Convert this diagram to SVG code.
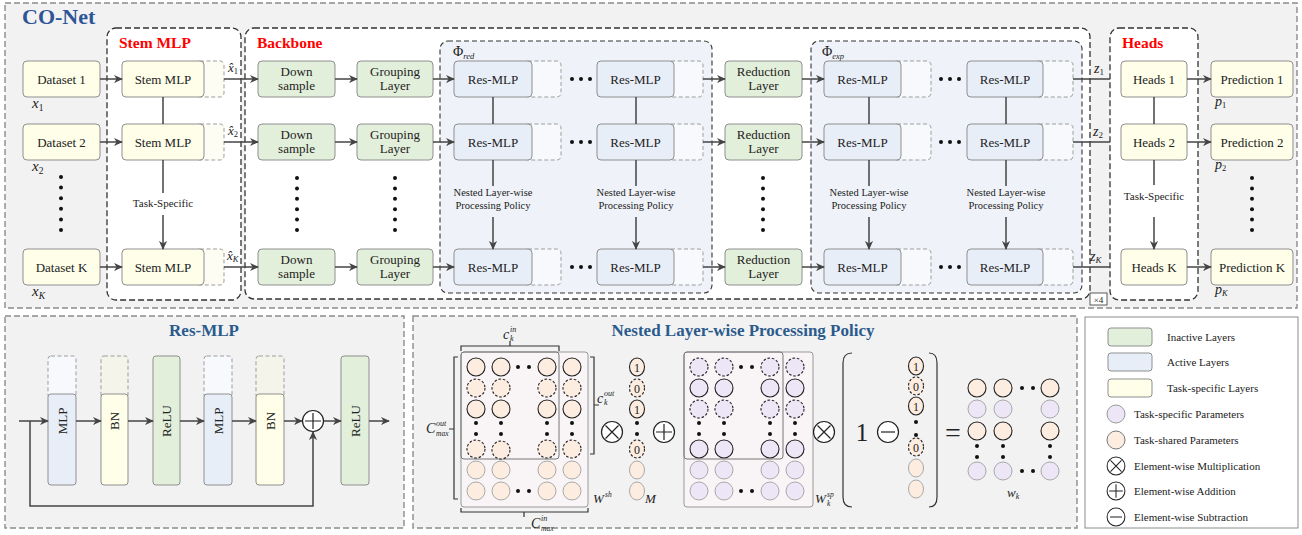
<svg xmlns="http://www.w3.org/2000/svg" width="1302" height="535" viewBox="0 0 1302 535">
<defs>
<style>
text{font-family:"Liberation Serif","DejaVu Serif",serif;fill:#222}
.t{font-size:13px;text-anchor:middle}
.sm{font-size:10.5px;text-anchor:middle}
.ts{font-size:11px;text-anchor:middle}
.lg{font-size:11px}
.it{font-style:italic}
.red{fill:#ff0000;font-weight:bold;font-size:15.5px}
.ttl{fill:#2b5a8c;font-weight:bold;font-size:17px;text-anchor:middle}
.panel{fill:#f2f2f2;stroke:#8c8c8c;stroke-width:1.4;stroke-dasharray:6 3}
.grp{fill:#fff;stroke:#333;stroke-width:1.3;stroke-dasharray:6 3}
.phi{fill:#eff2f8;stroke:#333;stroke-width:1.1;stroke-dasharray:5 3}
.b{stroke:#8f8f8f;stroke-width:1}
.yel{fill:#fefee9}
.grn{fill:#e2efda}
.blu{fill:#e8eef8}
.ext{stroke:#9d9d9d;stroke-width:1;stroke-dasharray:4 2.5}
.exy{fill:#fdfdf4}
.exb{fill:#f7f9fc}
.exbn{fill:#f4f4ea}
.c{stroke:#444;stroke-width:1.5;fill:none}
.dot{fill:#111}
.o{fill:#fdede0}
.p{fill:#ece6f6}
.cs{stroke:#222;stroke-width:1.1}
.cd{stroke:#222;stroke-width:1.1;stroke-dasharray:2.6 1.8}
.cg{stroke:#a8a8a8;stroke-width:1}
.mat{fill:#f9f5f7;stroke:#999;stroke-width:1}
.inr{fill:none;stroke:#777;stroke-width:1}
.br{fill:none;stroke:#333;stroke-width:1.2}
.mv{font-size:12px;text-anchor:middle}
</style>
<marker id="ah" viewBox="0 0 10 10" markerWidth="9" markerHeight="9" refX="9" refY="5" orient="auto" markerUnits="userSpaceOnUse"><path d="M0,0.5 L10,5 L0,9.5 L3,5 z" fill="#444"/></marker>
<g id="otimes"><circle r="10.5" fill="#fff" stroke="#222" stroke-width="1.2"/><path d="M-6.5,-6.5 L6.5,6.5 M6.5,-6.5 L-6.5,6.5" stroke="#222" stroke-width="1.2"/></g>
<g id="oplus"><circle r="10.5" fill="#fff" stroke="#222" stroke-width="1.2"/><path d="M-8,0 L8,0 M0,-8 L0,8" stroke="#222" stroke-width="1.2"/></g>
<g id="ominus"><circle r="10.5" fill="#fff" stroke="#222" stroke-width="1.2"/><path d="M-7,0 L7,0" stroke="#222" stroke-width="1.2"/></g>
</defs>
<rect x="0" y="0" width="1302" height="535" fill="#fff"/>

<!-- TOP PANEL -->
<g id="co-net">
<rect class="panel" x="5" y="3" width="1292" height="305"/>
<text x="22" y="24" font-size="22" font-weight="bold" style="fill:#2f5597">CO-Net</text>
<rect class="grp" x="107" y="28" width="134" height="272" rx="9"/>
<text class="red" x="119" y="48">Stem MLP</text>
<rect class="grp" x="245" y="28" width="845" height="271" rx="9"/>
<text class="red" x="257" y="48">Backbone</text>
<rect class="phi" x="440" y="41" width="272" height="252" rx="8"/>
<text x="453" y="56" font-size="14">Φ<tspan class="it" font-size="8.5" dy="3">red</tspan></text>
<rect class="phi" x="811" y="41" width="271" height="252" rx="8"/>
<text x="822" y="56" font-size="14">Φ<tspan class="it" font-size="8.5" dy="3">exp</tspan></text>
<rect class="grp" x="1110" y="28" width="88" height="272" rx="9"/>
<text class="red" x="1122" y="48">Heads</text>
<rect x="1090" y="293" width="17" height="12" fill="#fff" stroke="#333" stroke-width="0.8"/>
<text x="1098.5" y="302.5" font-size="9" text-anchor="middle">×4</text>
</g>

<!-- Row 1 -->
<g id="dataset-1"><rect class="b yel" x="23" y="61" width="77" height="36" rx="4"/><text class="t" x="61.5" y="83.5">Dataset 1</text></g>
<g id="stem-1"><rect class="ext exy" x="196" y="61" width="28" height="36" rx="4"/><rect class="b yel" x="122" y="61" width="82" height="36" rx="4"/><text class="t" x="163" y="83.5">Stem MLP</text></g>
<g id="down-1"><rect class="b grn" x="258" y="61" width="77" height="36" rx="4"/><text class="t" x="296.5" y="76">Down</text><text class="t" x="296.5" y="90">sample</text></g>
<g id="group-1"><rect class="b grn" x="357" y="61" width="76" height="36" rx="4"/><text class="t" x="395" y="76">Grouping</text><text class="t" x="395" y="90">Layer</text></g>
<g id="resA-1"><rect class="ext exb" x="524" y="61" width="37" height="36" rx="4"/><rect class="b blu" x="454" y="61" width="78" height="36" rx="4"/><text class="t" x="493" y="83.5">Res-MLP</text></g>
<g id="resB-1"><rect class="ext exb" x="667" y="61" width="36" height="36" rx="4"/><rect class="b blu" x="597" y="61" width="77" height="36" rx="4"/><text class="t" x="635.5" y="83.5">Res-MLP</text></g>
<g id="red-1"><rect class="b grn" x="725" y="61" width="77" height="36" rx="4"/><text class="t" x="763.5" y="76">Reduction</text><text class="t" x="763.5" y="90">Layer</text></g>
<g id="resC-1"><rect class="ext exb" x="893" y="61" width="38" height="36" rx="4"/><rect class="b blu" x="824" y="61" width="77" height="36" rx="4"/><text class="t" x="862.5" y="83.5">Res-MLP</text></g>
<g id="resD-1"><rect class="ext exb" x="1035" y="61" width="38" height="36" rx="4"/><rect class="b blu" x="967" y="61" width="76" height="36" rx="4"/><text class="t" x="1005" y="83.5">Res-MLP</text></g>
<g id="heads-1"><rect class="b yel" x="1121" y="61" width="66" height="36" rx="4"/><text class="t" x="1154" y="83.5">Heads 1</text></g>
<g id="pred-1"><rect class="b yel" x="1211" y="61" width="82" height="36" rx="4"/><text class="t" x="1252" y="83.5">Prediction 1</text></g>

<!-- Row 2 -->
<g id="dataset-2"><rect class="b yel" x="23" y="124" width="77" height="36" rx="4"/><text class="t" x="61.5" y="146.5">Dataset 2</text></g>
<g id="stem-2"><rect class="ext exy" x="196" y="124" width="28" height="36" rx="4"/><rect class="b yel" x="122" y="124" width="82" height="36" rx="4"/><text class="t" x="163" y="146.5">Stem MLP</text></g>
<g id="down-2"><rect class="b grn" x="258" y="124" width="77" height="36" rx="4"/><text class="t" x="296.5" y="139">Down</text><text class="t" x="296.5" y="153">sample</text></g>
<g id="group-2"><rect class="b grn" x="357" y="124" width="76" height="36" rx="4"/><text class="t" x="395" y="139">Grouping</text><text class="t" x="395" y="153">Layer</text></g>
<g id="resA-2"><rect class="ext exb" x="524" y="124" width="37" height="36" rx="4"/><rect class="b blu" x="454" y="124" width="78" height="36" rx="4"/><text class="t" x="493" y="146.5">Res-MLP</text></g>
<g id="resB-2"><rect class="ext exb" x="667" y="124" width="36" height="36" rx="4"/><rect class="b blu" x="597" y="124" width="77" height="36" rx="4"/><text class="t" x="635.5" y="146.5">Res-MLP</text></g>
<g id="red-2"><rect class="b grn" x="725" y="124" width="77" height="36" rx="4"/><text class="t" x="763.5" y="139">Reduction</text><text class="t" x="763.5" y="153">Layer</text></g>
<g id="resC-2"><rect class="ext exb" x="893" y="124" width="38" height="36" rx="4"/><rect class="b blu" x="824" y="124" width="77" height="36" rx="4"/><text class="t" x="862.5" y="146.5">Res-MLP</text></g>
<g id="resD-2"><rect class="ext exb" x="1035" y="124" width="38" height="36" rx="4"/><rect class="b blu" x="967" y="124" width="76" height="36" rx="4"/><text class="t" x="1005" y="146.5">Res-MLP</text></g>
<g id="heads-2"><rect class="b yel" x="1121" y="124" width="66" height="36" rx="4"/><text class="t" x="1154" y="146.5">Heads 2</text></g>
<g id="pred-2"><rect class="b yel" x="1211" y="124" width="82" height="36" rx="4"/><text class="t" x="1252" y="146.5">Prediction 2</text></g>

<!-- Row K -->
<g id="dataset-k"><rect class="b yel" x="23" y="249" width="77" height="36" rx="4"/><text class="t" x="61.5" y="271.5">Dataset K</text></g>
<g id="stem-k"><rect class="ext exy" x="196" y="249" width="28" height="36" rx="4"/><rect class="b yel" x="122" y="249" width="82" height="36" rx="4"/><text class="t" x="163" y="271.5">Stem MLP</text></g>
<g id="down-k"><rect class="b grn" x="258" y="249" width="77" height="36" rx="4"/><text class="t" x="296.5" y="264">Down</text><text class="t" x="296.5" y="278">sample</text></g>
<g id="group-k"><rect class="b grn" x="357" y="249" width="76" height="36" rx="4"/><text class="t" x="395" y="264">Grouping</text><text class="t" x="395" y="278">Layer</text></g>
<g id="resA-k"><rect class="ext exb" x="524" y="249" width="37" height="36" rx="4"/><rect class="b blu" x="454" y="249" width="78" height="36" rx="4"/><text class="t" x="493" y="271.5">Res-MLP</text></g>
<g id="resB-k"><rect class="ext exb" x="667" y="249" width="36" height="36" rx="4"/><rect class="b blu" x="597" y="249" width="77" height="36" rx="4"/><text class="t" x="635.5" y="271.5">Res-MLP</text></g>
<g id="red-k"><rect class="b grn" x="725" y="249" width="77" height="36" rx="4"/><text class="t" x="763.5" y="264">Reduction</text><text class="t" x="763.5" y="278">Layer</text></g>
<g id="resC-k"><rect class="ext exb" x="893" y="249" width="38" height="36" rx="4"/><rect class="b blu" x="824" y="249" width="77" height="36" rx="4"/><text class="t" x="862.5" y="271.5">Res-MLP</text></g>
<g id="resD-k"><rect class="ext exb" x="1035" y="249" width="38" height="36" rx="4"/><rect class="b blu" x="967" y="249" width="76" height="36" rx="4"/><text class="t" x="1005" y="271.5">Res-MLP</text></g>
<g id="heads-k"><rect class="b yel" x="1121" y="249" width="66" height="36" rx="4"/><text class="t" x="1154" y="271.5">Heads K</text></g>
<g id="pred-k"><rect class="b yel" x="1211" y="249" width="82" height="36" rx="4"/><text class="t" x="1252" y="271.5">Prediction K</text></g>

<!-- connectors top -->
<g id="connectors">
<g class="c" marker-end="url(#ah)">
<path d="M100,79 H122"/><path d="M224,79 H258"/><path d="M335,79 H357"/><path d="M433,79 H454"/><path d="M703,79 H725"/><path d="M802,79 H824"/><path d="M1187,79 H1211"/>
<path d="M100,142 H122"/><path d="M224,142 H258"/><path d="M335,142 H357"/><path d="M433,142 H454"/><path d="M703,142 H725"/><path d="M802,142 H824"/><path d="M1187,142 H1211"/>
<path d="M100,267 H122"/><path d="M224,267 H258"/><path d="M335,267 H357"/><path d="M433,267 H454"/><path d="M703,267 H725"/><path d="M802,267 H824"/><path d="M1187,267 H1211"/>
<path d="M163,215 V249"/><path d="M493,217 V249"/><path d="M636,217 V249"/><path d="M869,217 V249"/><path d="M1006,217 V249"/><path d="M1154,217 V249"/>
</g>
<path class="c" d="M1073,79 H1110 M1073,142 H1110 M1073,267 H1110"/>
<path class="c" d="M163,97 V124 M163,160 V193 M493,97 V124 M493,160 V186 M636,97 V124 M636,160 V186 M869,97 V124 M869,160 V186 M1006,97 V124 M1006,160 V186 M1154,97 V124 M1154,160 V185"/>
</g>

<!-- labels top -->
<g id="labels-top">
<text class="ts" x="163" y="207">Task-Specific</text>
<text class="ts" x="1154" y="200">Task-Specific</text>
<text class="sm" x="493" y="196">Nested Layer-wise</text><text class="sm" x="493" y="209">Processing Policy</text>
<text class="sm" x="636" y="196">Nested Layer-wise</text><text class="sm" x="636" y="209">Processing Policy</text>
<text class="sm" x="869" y="196">Nested Layer-wise</text><text class="sm" x="869" y="209">Processing Policy</text>
<text class="sm" x="1006" y="196">Nested Layer-wise</text><text class="sm" x="1006" y="209">Processing Policy</text>
<text class="it" x="32" y="108" font-size="15">x<tspan font-size="9.5" dy="3" font-style="normal">1</tspan></text>
<text class="it" x="32" y="171" font-size="15">x<tspan font-size="9.5" dy="3" font-style="normal">2</tspan></text>
<text class="it" x="32" y="296" font-size="15">x<tspan font-size="9.5" dy="3">K</tspan></text>
<text class="it" x="228" y="72" font-size="13">x̂<tspan font-size="8.5" dy="2" font-style="normal">1</tspan></text>
<text class="it" x="228" y="135" font-size="13">x̂<tspan font-size="8.5" dy="2" font-style="normal">2</tspan></text>
<text class="it" x="227" y="260" font-size="13">x̂<tspan font-size="8.5" dy="2">K</tspan></text>
<text class="it" x="1094" y="73" font-size="14">z<tspan font-size="9" dy="2" font-style="normal">1</tspan></text>
<text class="it" x="1093" y="136" font-size="14">z<tspan font-size="9" dy="2" font-style="normal">2</tspan></text>
<text class="it" x="1090" y="261" font-size="14">z<tspan font-size="9" dy="2">K</tspan></text>
<text class="it" x="1215" y="106" font-size="14">p<tspan font-size="8.5" dy="2" font-style="normal">1</tspan></text>
<text class="it" x="1215" y="169" font-size="14">p<tspan font-size="8.5" dy="2" font-style="normal">2</tspan></text>
<text class="it" x="1215" y="294" font-size="14">p<tspan font-size="8.5" dy="2">K</tspan></text>
</g>

<!-- dots top -->
<g id="dots-top" class="dot">
<circle cx="61" cy="177" r="2"/><circle cx="61" cy="187.6" r="2"/><circle cx="61" cy="198.2" r="2"/><circle cx="61" cy="208.8" r="2"/><circle cx="61" cy="219.4" r="2"/><circle cx="61" cy="230" r="2"/>
<circle cx="297" cy="178" r="2"/><circle cx="297" cy="188.4" r="2"/><circle cx="297" cy="198.8" r="2"/><circle cx="297" cy="209.2" r="2"/><circle cx="297" cy="219.6" r="2"/><circle cx="297" cy="230" r="2"/>
<circle cx="395" cy="178" r="2"/><circle cx="395" cy="188.4" r="2"/><circle cx="395" cy="198.8" r="2"/><circle cx="395" cy="209.2" r="2"/><circle cx="395" cy="219.6" r="2"/><circle cx="395" cy="230" r="2"/>
<circle cx="763" cy="178" r="2"/><circle cx="763" cy="188.4" r="2"/><circle cx="763" cy="198.8" r="2"/><circle cx="763" cy="209.2" r="2"/><circle cx="763" cy="219.6" r="2"/><circle cx="763" cy="230" r="2"/>
<circle cx="1252" cy="178" r="2"/><circle cx="1252" cy="188.4" r="2"/><circle cx="1252" cy="198.8" r="2"/><circle cx="1252" cy="209.2" r="2"/><circle cx="1252" cy="219.6" r="2"/><circle cx="1252" cy="230" r="2"/>
<circle cx="572" cy="79" r="2"/><circle cx="581" cy="79" r="2"/><circle cx="590" cy="79" r="2"/>
<circle cx="572" cy="142" r="2"/><circle cx="581" cy="142" r="2"/><circle cx="590" cy="142" r="2"/>
<circle cx="572" cy="267" r="2"/><circle cx="581" cy="267" r="2"/><circle cx="590" cy="267" r="2"/>
<circle cx="941" cy="79" r="2"/><circle cx="950" cy="79" r="2"/><circle cx="959" cy="79" r="2"/>
<circle cx="941" cy="142" r="2"/><circle cx="950" cy="142" r="2"/><circle cx="959" cy="142" r="2"/>
<circle cx="941" cy="267" r="2"/><circle cx="950" cy="267" r="2"/><circle cx="959" cy="267" r="2"/>
</g>

<!-- RES-MLP PANEL -->
<g id="res-mlp-panel">
<rect class="panel" x="5" y="316" width="399" height="212"/>
<text class="ttl" x="204" y="336">Res-MLP</text>
</g>
<g id="rm-mlp1"><rect class="ext exb" x="48" y="356" width="28" height="42" rx="3"/><rect class="b blu" x="48" y="394" width="28" height="91" rx="3"/><text class="t" font-size="12" transform="translate(62,421) rotate(-90)" x="0" y="4.5">MLP</text></g>
<g id="rm-bn1"><rect class="ext exbn" x="101" y="356" width="27" height="42" rx="3"/><rect class="b yel" x="101" y="394" width="27" height="91" rx="3"/><text class="t" font-size="12" transform="translate(114.5,421) rotate(-90)" x="0" y="4.5">BN</text></g>
<g id="rm-relu1"><rect class="b grn" x="153" y="356" width="27" height="129" rx="3"/><text class="t" font-size="12" transform="translate(166.5,421) rotate(-90)" x="0" y="4.5">ReLU</text></g>
<g id="rm-mlp2"><rect class="ext exb" x="204" y="356" width="28" height="42" rx="3"/><rect class="b blu" x="204" y="394" width="28" height="91" rx="3"/><text class="t" font-size="12" transform="translate(218,421) rotate(-90)" x="0" y="4.5">MLP</text></g>
<g id="rm-bn2"><rect class="ext exbn" x="256" y="356" width="28" height="42" rx="3"/><rect class="b yel" x="256" y="394" width="28" height="91" rx="3"/><text class="t" font-size="12" transform="translate(270,421) rotate(-90)" x="0" y="4.5">BN</text></g>
<g id="rm-add"><use href="#oplus" x="313" y="421"/></g>
<g id="rm-relu2"><rect class="b grn" x="341" y="356" width="28" height="129" rx="3"/><text class="t" font-size="12" transform="translate(355,421) rotate(-90)" x="0" y="4.5">ReLU</text></g>
<g id="rm-connectors" class="c" marker-end="url(#ah)">
<path d="M19,421 H48"/><path d="M76,421 H101"/><path d="M128,421 H153"/><path d="M180,421 H204"/><path d="M232,421 H256"/><path d="M284,421 H302"/><path d="M324,421 H341"/><path d="M369,421 H389"/><path d="M30,421 V506 H313 V432"/>
</g>

<!-- NESTED PANEL -->
<g id="nested-panel">
<rect class="panel" x="413" y="316" width="664" height="212"/>
<text class="ttl" x="743" y="336">Nested Layer-wise Processing Policy</text>
</g>

<g id="matrix-sh">
<rect class="mat" x="461" y="352" width="127" height="155" rx="3"/>
<rect class="inr" x="461" y="352" width="98" height="107" rx="3"/>
<g class="o">
<circle class="cs" cx="476" cy="367" r="9"/><circle class="cs" cx="501" cy="367" r="9"/><circle class="cs" cx="547" cy="367" r="9"/><circle class="cs" cx="572" cy="367" r="9"/>
<circle class="cd" cx="476" cy="388" r="9"/><circle class="cd" cx="501" cy="388" r="9"/><circle class="cd" cx="547" cy="388" r="9"/><circle class="cd" cx="572" cy="388" r="9"/>
<circle class="cs" cx="476" cy="409" r="9"/><circle class="cs" cx="501" cy="409" r="9"/><circle class="cs" cx="547" cy="409" r="9"/><circle class="cs" cx="572" cy="409" r="9"/>
<circle class="cd" cx="476" cy="449" r="9"/><circle class="cd" cx="501" cy="450" r="9"/><circle class="cd" cx="547" cy="449" r="9"/><circle class="cd" cx="572" cy="449" r="9"/>
<circle class="cg" cx="476" cy="470" r="9"/><circle class="cg" cx="501" cy="470" r="9"/><circle class="cg" cx="547" cy="470" r="9"/><circle class="cg" cx="572" cy="470" r="9"/>
<circle class="cg" cx="476" cy="491" r="9"/><circle class="cg" cx="501" cy="491" r="9"/><circle class="cg" cx="547" cy="491" r="9"/><circle class="cg" cx="572" cy="491" r="9"/>
</g>
<g class="dot">
<circle cx="518" cy="367" r="2"/><circle cx="529" cy="367" r="2"/><circle cx="518" cy="491" r="2"/><circle cx="529" cy="491" r="2"/>
<circle cx="476" cy="423" r="2"/><circle cx="501" cy="423" r="2"/><circle cx="547" cy="423" r="2"/><circle cx="572" cy="423" r="2"/>
<circle cx="476" cy="434" r="2"/><circle cx="501" cy="434" r="2"/><circle cx="547" cy="434" r="2"/><circle cx="572" cy="434" r="2"/>
</g>
<path class="br" d="M461,351 V346 H559 V351 M510,346 V341"/>
<path class="br" d="M458,357 H454 V499 H458 M454,429 H449"/>
<path class="br" d="M590,357 H594 V454 H590 M594,405 H599"/>
<path class="br" d="M461,508 V512 H588 V508 M524,512 V517"/>
<text class="it" x="503" y="339" font-size="14">c</text><text class="it" x="510" y="332" font-size="8">in</text><text class="it" x="510" y="341" font-size="8">k</text>
<text class="it" x="426" y="433" font-size="14">C</text><text class="it" x="436" y="426" font-size="8">out</text><text class="it" x="436" y="436" font-size="7.5">max</text>
<text class="it" x="597" y="403" font-size="14">c</text><text class="it" x="604" y="396" font-size="8">out</text><text class="it" x="604" y="405" font-size="8">k</text>
<text class="it" x="531" y="528" font-size="14">C</text><text class="it" x="541" y="521" font-size="8">in</text><text class="it" x="541" y="531" font-size="7.5">max</text>
<text class="it" x="593" y="503" font-size="13">W</text><text class="it" x="605" y="497" font-size="7.5">sh</text>
</g>

<g id="op-mul1"><use href="#otimes" x="612" y="432"/></g>

<g id="mask-m">
<ellipse class="o cs" cx="637" cy="367" rx="7.5" ry="9"/><text class="mv" x="637" y="371.5">1</text>
<ellipse class="o cd" cx="637" cy="388" rx="7.5" ry="9"/><text class="mv" x="637" y="392.5">0</text>
<ellipse class="o cs" cx="637" cy="409" rx="7.5" ry="9"/><text class="mv" x="637" y="413.5">1</text>
<circle class="dot" cx="637" cy="423" r="2"/><circle class="dot" cx="637" cy="434" r="2"/>
<ellipse class="o cd" cx="637" cy="449" rx="7.5" ry="9"/><text class="mv" x="637" y="453.5">0</text>
<ellipse class="o cg" cx="637" cy="470" rx="7.5" ry="9"/>
<ellipse class="o cg" cx="637" cy="491" rx="7.5" ry="9"/>
<text class="it" x="645" y="503" font-size="13">M</text>
</g>

<g id="op-add"><use href="#oplus" x="664" y="432"/></g>

<g id="matrix-sp">
<rect class="mat" x="684" y="352" width="129" height="155" rx="3"/>
<rect class="inr" x="684" y="352" width="99" height="107" rx="3"/>
<g class="p">
<circle class="cd" cx="699" cy="367" r="9"/><circle class="cd" cx="724" cy="367" r="9"/><circle class="cd" cx="770" cy="367" r="9"/><circle class="cd" cx="795" cy="367" r="9"/>
<circle class="cs" cx="699" cy="388" r="9"/><circle class="cs" cx="724" cy="388" r="9"/><circle class="cs" cx="770" cy="388" r="9"/><circle class="cs" cx="795" cy="388" r="9"/>
<circle class="cd" cx="699" cy="409" r="9"/><circle class="cd" cx="724" cy="409" r="9"/><circle class="cd" cx="770" cy="409" r="9"/><circle class="cd" cx="795" cy="409" r="9"/>
<circle class="cs" cx="699" cy="449" r="9"/><circle class="cs" cx="724" cy="449" r="9"/><circle class="cs" cx="770" cy="449" r="9"/><circle class="cs" cx="795" cy="449" r="9"/>
<circle class="cg" cx="699" cy="470" r="9"/><circle class="cg" cx="724" cy="470" r="9"/><circle class="cg" cx="770" cy="470" r="9"/><circle class="cg" cx="795" cy="470" r="9"/>
<circle class="cg" cx="699" cy="491" r="9"/><circle class="cg" cx="724" cy="491" r="9"/><circle class="cg" cx="770" cy="491" r="9"/><circle class="cg" cx="795" cy="491" r="9"/>
</g>
<g class="dot">
<circle cx="741" cy="367" r="2"/><circle cx="752" cy="367" r="2"/><circle cx="741" cy="491" r="2"/><circle cx="752" cy="491" r="2"/>
<circle cx="699" cy="423" r="2"/><circle cx="724" cy="423" r="2"/><circle cx="770" cy="423" r="2"/><circle cx="795" cy="423" r="2"/>
<circle cx="699" cy="434" r="2"/><circle cx="724" cy="434" r="2"/><circle cx="770" cy="434" r="2"/><circle cx="795" cy="434" r="2"/>
</g>
<text class="it" x="815" y="503" font-size="13">W</text><text class="it" x="827" y="497" font-size="7.5">sp</text><text class="it" x="827" y="506" font-size="7.5">k</text>
</g>

<g id="op-mul2"><use href="#otimes" x="824" y="432"/></g>

<g id="mask-inv">
<path class="br" d="M852,353 Q843,353 843,363 V497 Q843,507 852,507"/>
<path class="br" d="M929,353 Q937,353 937,363 V497 Q937,507 929,507"/>
<text x="862" y="441" font-size="25" text-anchor="middle">1</text>
<use href="#ominus" x="888" y="432"/>
<ellipse class="o cs" cx="916" cy="366" rx="7.5" ry="9"/><text class="mv" x="916" y="370.5">1</text>
<ellipse class="o cd" cx="916" cy="386" rx="7.5" ry="9"/><text class="mv" x="916" y="390.5">0</text>
<ellipse class="o cs" cx="916" cy="406" rx="7.5" ry="9"/><text class="mv" x="916" y="410.5">1</text>
<circle class="dot" cx="916" cy="422" r="2"/><circle class="dot" cx="916" cy="435" r="2"/>
<ellipse class="o cd" cx="916" cy="447" rx="7.5" ry="9"/><text class="mv" x="916" y="451.5">0</text>
<ellipse class="o cg" cx="916" cy="468" rx="7.5" ry="9"/>
<ellipse class="o cg" cx="916" cy="489" rx="7.5" ry="9"/>
</g>

<g id="equals"><text x="953" y="442" font-size="28" text-anchor="middle">=</text></g>

<g id="matrix-w">
<circle class="o cs" cx="977" cy="388" r="9"/><circle class="o cs" cx="1003" cy="388" r="9"/><circle class="o cs" cx="1050" cy="388" r="9"/>
<circle class="p cg" cx="977" cy="409" r="9"/><circle class="p cg" cx="1003" cy="409" r="9"/><circle class="p cg" cx="1050" cy="409" r="9"/>
<circle class="o cs" cx="977" cy="431" r="9"/><circle class="o cs" cx="1003" cy="431" r="9"/><circle class="o cs" cx="1050" cy="431" r="9"/>
<circle class="p cg" cx="977" cy="471" r="9"/><circle class="p cg" cx="1003" cy="471" r="9"/><circle class="p cg" cx="1050" cy="471" r="9"/>
<g class="dot">
<circle cx="1022" cy="388" r="2"/><circle cx="1033" cy="388" r="2"/><circle cx="1022" cy="471" r="2"/><circle cx="1033" cy="471" r="2"/>
<circle cx="977" cy="446" r="2"/><circle cx="1003" cy="446" r="2"/><circle cx="1050" cy="446" r="2"/>
<circle cx="977" cy="457" r="2"/><circle cx="1003" cy="457" r="2"/><circle cx="1050" cy="457" r="2"/>
</g>
<text class="it" x="1007" y="497" font-size="13">w<tspan font-size="8" dy="2">k</tspan></text>
</g>

<!-- LEGEND -->
<g id="legend">
<rect x="1085" y="317" width="213" height="211" fill="#fff" stroke="#8c8c8c" stroke-width="1"/>
<rect class="b grn" x="1108" y="328" width="44" height="18" rx="3"/><text class="lg" x="1167" y="341">Inactive Layers</text>
<rect class="b blu" x="1108" y="353" width="44" height="18" rx="3"/><text class="lg" x="1167" y="366">Active Layers</text>
<rect class="b yel" x="1108" y="379" width="44" height="18" rx="3"/><text class="lg" x="1167" y="392">Task-specific Layers</text>
<circle class="p" cx="1116" cy="414" r="9" stroke="#999"/><text class="lg" x="1134" y="418">Task-specific Parameters</text>
<circle class="o" cx="1116" cy="440" r="9" stroke="#777"/><text class="lg" x="1134" y="444">Task-shared Parameters</text>
<use href="#otimes" transform="translate(1116,466) scale(0.85)"/><text class="lg" x="1134" y="470">Element-wise Multiplication</text>
<use href="#oplus" transform="translate(1116,491) scale(0.85)"/><text class="lg" x="1134" y="495">Element-wise Addition</text>
<use href="#ominus" transform="translate(1116,517) scale(0.85)"/><text class="lg" x="1134" y="521">Element-wise Subtraction</text>
</g>
</svg>
